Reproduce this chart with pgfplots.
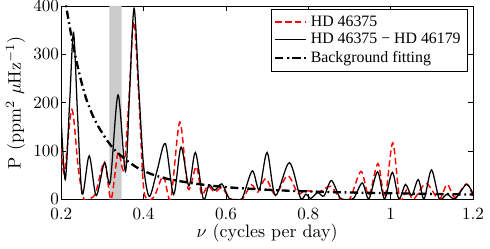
\documentclass[border=0pt]{standalone}
\usepackage{pgfplots}
\pgfplotsset{compat=1.18}
\usepackage{fontspec}
\newfontfamily\legfont{Liberation Serif}
\begin{document}
\begin{tikzpicture}
\begin{axis}[
  scale only axis, width=228.7pt, height=107.4pt,
  xmin=0.2, xmax=1.2, ymin=0, ymax=400,
  xtick={0.2,0.4,0.6,0.8,1,1.2}, xticklabels={0.2,0.4,0.6,0.8,1,1.2},
  ytick={0,100,200,300,400}, yticklabels={{\raisebox{1pt}{0}},100,200,300,{400\hspace{13pt}}},
  tick align=inside, tick pos=both, xticklabel pos=lower, yticklabel pos=left,
  major tick length=2.8pt,
  tick label style={font=\fontsize{9.5}{10}\selectfont},
  yticklabel style={inner xsep=1pt, inner ysep=0pt},
  xticklabel style={inner ysep=0pt, yshift=-4.5pt},
  axis line style={line width=0.5pt}, tick style={black, line width=0.4pt},
  xlabel={$\nu$ (cycles per day)},
  ylabel={P (ppm$^2$ $\mu$Hz$^{-1}$)},
  every axis y label/.style={at={(axis description cs:-0.072,0.5)}, rotate=90, anchor=south},
  xlabel style={yshift=1pt},
  legend style={at={(rel axis cs:0.986,0.985)}, anchor=north east,
    font=\legfont\fontsize{8.8}{10}\selectfont, draw=black, line width=0.4pt,
    inner sep=1.5pt, row sep=-1.5pt, fill=white},
  legend cell align=left,
]
\addplot[fill=black!20, draw=none, forget plot] coordinates {(0.317,0) (0.317,400) (0.347,400) (0.347,0)} \closedcycle;

\addplot[red, line width=0.8pt, dash pattern=on 3.5pt off 2pt, smooth] coordinates {
(0.200,105) (0.208,55) (0.226,186) (0.242,60) (0.255,1) (0.270,2) (0.284,14)
(0.305,77) (0.321,0) (0.338,97) (0.352,62) (0.364,200) (0.376,368) (0.388,220)
(0.399,35) (0.408,0) (0.426,6) (0.448,48) (0.466,1) (0.488,160) (0.508,22)
(0.528,68) (0.541,10) (0.556,28) (0.573,15) (0.590,24) (0.610,1) (0.625,0)
(0.640,1) (0.662,30) (0.677,15) (0.697,43) (0.720,10) (0.750,49) (0.775,12)
(0.790,18) (0.805,17) (0.825,15) (0.855,27) (0.877,1) (0.900,0) (0.928,58)
(0.947,8) (0.969,74) (0.986,4) (1.005,117) (1.022,1) (1.040,21) (1.055,0)
(1.086,33) (1.117,0) (1.137,31) (1.156,4) (1.184,32) (1.200,6)
};
\addlegendentry{HD 46375}

\addplot[black, line width=0.7pt, smooth] coordinates {
(0.200,165) (0.210,41) (0.2205,200) (0.230,345) (0.240,170) (0.251,11)
(0.268,90) (0.285,8) (0.305,76) (0.319,36) (0.338,216) (0.356,58)
(0.366,220) (0.377,395) (0.389,220) (0.400,70) (0.414,6) (0.433,60)
(0.453,115) (0.473,10) (0.491,108) (0.510,28) (0.526,97) (0.545,1)
(0.559,30) (0.573,19) (0.590,32) (0.608,2) (0.625,0) (0.640,3)
(0.664,59) (0.681,20) (0.700,97) (0.720,8) (0.754,76) (0.781,3)
(0.794,11) (0.806,2) (0.823,14) (0.838,7) (0.856,39) (0.877,3)
(0.893,0) (0.910,2) (0.931,34) (0.947,1) (0.968,57) (0.985,1)
(1.004,56) (1.020,1) (1.036,31) (1.051,8) (1.067,41) (1.081,1)
(1.099,61) (1.118,1) (1.137,11) (1.156,1) (1.184,31) (1.200,11)
};
\addlegendentry{HD 46375 − HD 46179}

\addplot[black, line width=1.3pt, dash pattern=on 4.5pt off 2pt on 1pt off 2pt, smooth] coordinates {
(0.200,460) (0.210,410) (0.220,360) (0.230,315) (0.240,275) (0.250,240)
(0.260,210) (0.270,187) (0.280,167) (0.290,151) (0.300,137) (0.310,124)
(0.320,112) (0.330,102) (0.340,94) (0.350,87) (0.360,80) (0.370,74)
(0.380,68) (0.390,63) (0.400,59) (0.420,52) (0.450,44) (0.480,39)
(0.500,36) (0.540,31) (0.580,27) (0.620,24) (0.660,22) (0.700,20)
(0.750,18) (0.800,16.5) (0.850,15.3) (0.900,14.3) (0.950,13.5)
(1.000,12.8) (1.050,12) (1.100,11.3) (1.150,10.7) (1.200,10)
};
\addlegendentry{Background fitting}
\end{axis}
\end{tikzpicture}
\end{document}
